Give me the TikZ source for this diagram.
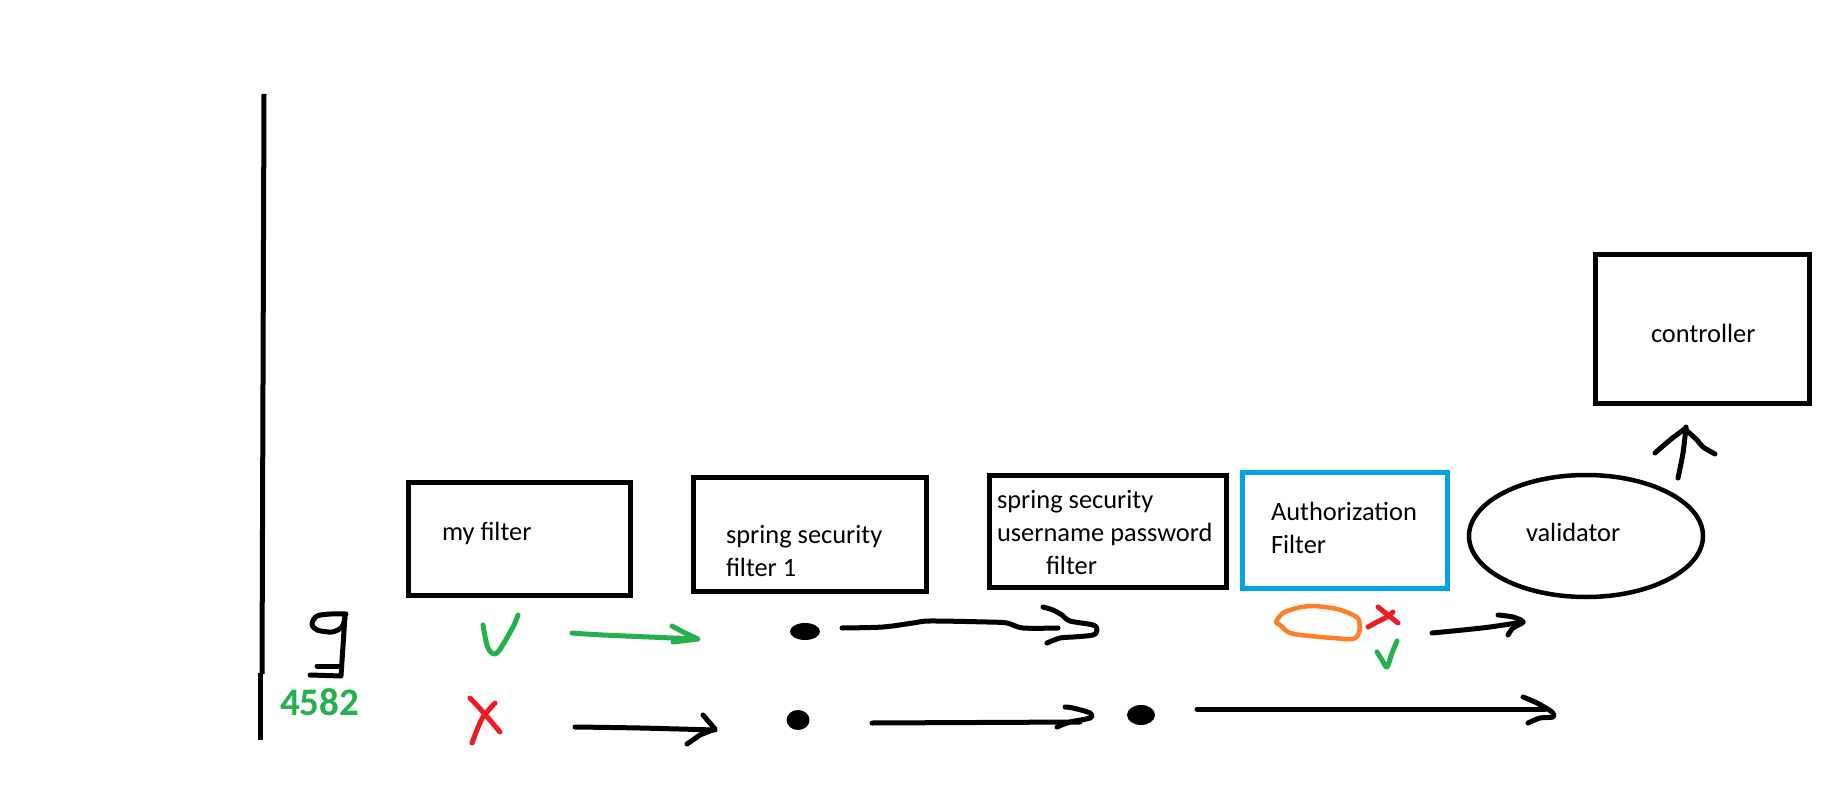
\documentclass[tikz,border=0pt]{standalone}
\usepackage{fontspec}
\setmainfont{Carlito}
\usetikzlibrary{shapes.geometric}
\definecolor{pgreen}{HTML}{22B14C}
\definecolor{pred}{HTML}{ED1C24}
\definecolor{porange}{HTML}{FF7F27}
\definecolor{pblue}{HTML}{00A2E8}
\newcommand\lblfont{\fontsize{26.4}{33}\selectfont}
\begin{document}
\begin{tikzpicture}[x=1pt,y=-1pt,
  box/.style={draw=black, line width=5pt, rectangle, inner sep=0pt, outer sep=0pt, anchor=north west},
  lbl/.style={inner sep=0pt, outer sep=0pt, anchor=base west, font=\lblfont},
  hand/.style={line width=5pt, line cap=round, line join=round},
  blob/.style={ellipse, fill=black, inner sep=0pt, outer sep=0pt},
]
\fill[white] (0,0) rectangle (1842,799);
\useasboundingbox (0,0) rectangle (1842,799);

% axis line
\coordinate (ax1) at (264,94);
\coordinate (ax2) at (262,674);
\coordinate (ax3) at (260,673);
\coordinate (ax4) at (260,740);
\draw[line width=5pt] (ax1) -- (ax2);
\draw[line width=5pt] (ax3) -- (ax4);

% boxes
\node[box, minimum width=222pt, minimum height=113pt] (b1) at (408,482) {};
\node[lbl] (t1) at (442,540) {my filter};

\node[box, minimum width=233pt, minimum height=114pt] (b2) at (693,477) {};
\node[lbl] (t2) at (726,543) {\begin{tabular}[t]{@{}l@{}}spring security\\filter 1\end{tabular}};

\node[box, minimum width=237pt, minimum height=112pt] (b3) at (989,475) {};
\node[lbl] (t3) at (997,508) {\begin{tabular}[t]{@{}l@{}}spring security\\username password\\\hspace*{49pt}filter\end{tabular}};

\node[box, draw=pblue, minimum width=205pt, minimum height=116pt] (b4) at (1242,472) {};
\node[lbl] (t4) at (1271,520) {\begin{tabular}[t]{@{}l@{}}Authorization\\Filter\end{tabular}};

\node[ellipse, draw=black, line width=4.5pt, inner sep=0pt, outer sep=0pt, minimum width=234pt, minimum height=122pt] (val) at (1586,536) {};
\node[lbl] (t5) at (1526,541) {validator};

\node[box, minimum width=214pt, minimum height=149pt] (ctl) at (1595,255) {};
\node[lbl] (t6) at (1651,343) {controller};

% figure "9"
\draw[hand] plot[smooth] coordinates {(346,614) (331,614) (317,616) (312,624) (317,630) (332,632) (342,627) (345,617)};
\draw[hand] (345,616) -- (341,676) -- (310,675);
\draw[hand] (317,666) -- (339,666);
\node[inner sep=0pt, anchor=base west, text=pgreen, font=\fontsize{39}{39}\selectfont\bfseries] (num) at (280,715) {4582};

% green check 1
\draw[hand, pgreen] plot[smooth] coordinates {(483,625) (488,648) (497,653) (513,627) (518,615)};
% green arrow
\coordinate (ga1) at (572,633);
\coordinate (ga2) at (697,639);
\draw[hand, pgreen] plot[smooth] coordinates {(ga1) (603,635) (ga2)};
\draw[hand, pgreen] (672,626) -- (683,632) -- (698,639) -- (673,642);

% red X 1
\draw[hand, pred] plot[smooth] coordinates {(470,698) (483,712) (500,732)};
\draw[hand, pred] plot[smooth] coordinates {(495,703) (483,717) (477,730) (472,743)};

% row 2 arrow 1
\coordinate (ra1) at (575,727);
\coordinate (ra2) at (715,730);
\draw[hand] plot[smooth] coordinates {(ra1) (640,728) (ra2)};
\draw[hand] (703,715) -- (715,729) -- (700,735) -- (687,744);

% dots
\node[blob, minimum width=30pt, minimum height=17pt] (d1) at (805,631.5) {};
\node[blob, minimum width=23pt, minimum height=20pt] (d2) at (798,720) {};
\node[blob, minimum width=28pt, minimum height=20pt] (d3) at (1141,715) {};

% row 1 arrow 2
\coordinate (rb1) at (842,628);
\coordinate (rb2) at (1058,628);
\draw[hand] plot[smooth] coordinates {(rb1) (883,627) (913,623) (930,621) (987,622) (1007,623) (1023,628) (rb2)};
\draw[hand] plot[smooth] coordinates {(1043,607) (1053,610) (1062,615) (1070,621) (1093,625) (1097,630) (1093,635) (1073,637) (1060,638) (1047,643)};

% row 2 arrow 2
\coordinate (rc1) at (872,723);
\coordinate (rc2) at (1080,722);
\draw[hand] (rc1) -- (rc2);
\draw[hand] plot[smooth] coordinates {(1065,707) (1073,708) (1090,713) (1090,718) (1070,722) (1057,727)};

% row 2 long arrow
\coordinate (rd1) at (1197,709);
\coordinate (rd2) at (1545,709);
\draw[hand] (rd1) -- (rd2);
\draw[hand] plot[smooth] coordinates {(1523,697) (1537,703) (1552,712) (1553,717) (1540,718) (1528,723)};

% orange loop
\draw[hand, porange, line width=4.5pt] plot[smooth cycle] coordinates {(1276,622) (1283,613) (1297,608) (1313,606) (1337,609) (1353,615) (1359,620) (1359,633) (1353,639) (1333,638) (1310,636) (1290,633) (1280,625)};

% red x 2
\draw[hand, pred] plot[smooth] coordinates {(1378,607) (1388,615) (1398,623)};
\draw[hand, pred] plot[smooth] coordinates {(1368,627) (1377,622) (1387,617) (1393,612)};
% green check 2
\draw[hand, pgreen] plot[smooth] coordinates {(1377,652) (1382,660) (1387,667) (1392,653) (1397,641)};

% arrow toward validator
\coordinate (re1) at (1432,633);
\coordinate (re2) at (1523,622);
\draw[hand] plot[smooth] coordinates {(re1) (1463,630) (1490,627) (re2)};
\draw[hand] plot[smooth] coordinates {(1498,615) (1513,617) (1523,622) (1513,628) (1508,635)};

% arrow up to controller
\coordinate (rf1) at (1678,478);
\coordinate (rf2) at (1686,427);
\draw[hand] plot[smooth] coordinates {(rf1) (1683,453) (rf2)};
\draw[hand] plot[smooth] coordinates {(1655,453) (1670,440) (1686,428)};
\draw[hand] plot[smooth] coordinates {(1686,430) (1697,440) (1703,447) (1715,454)};
\end{tikzpicture}
\end{document}
